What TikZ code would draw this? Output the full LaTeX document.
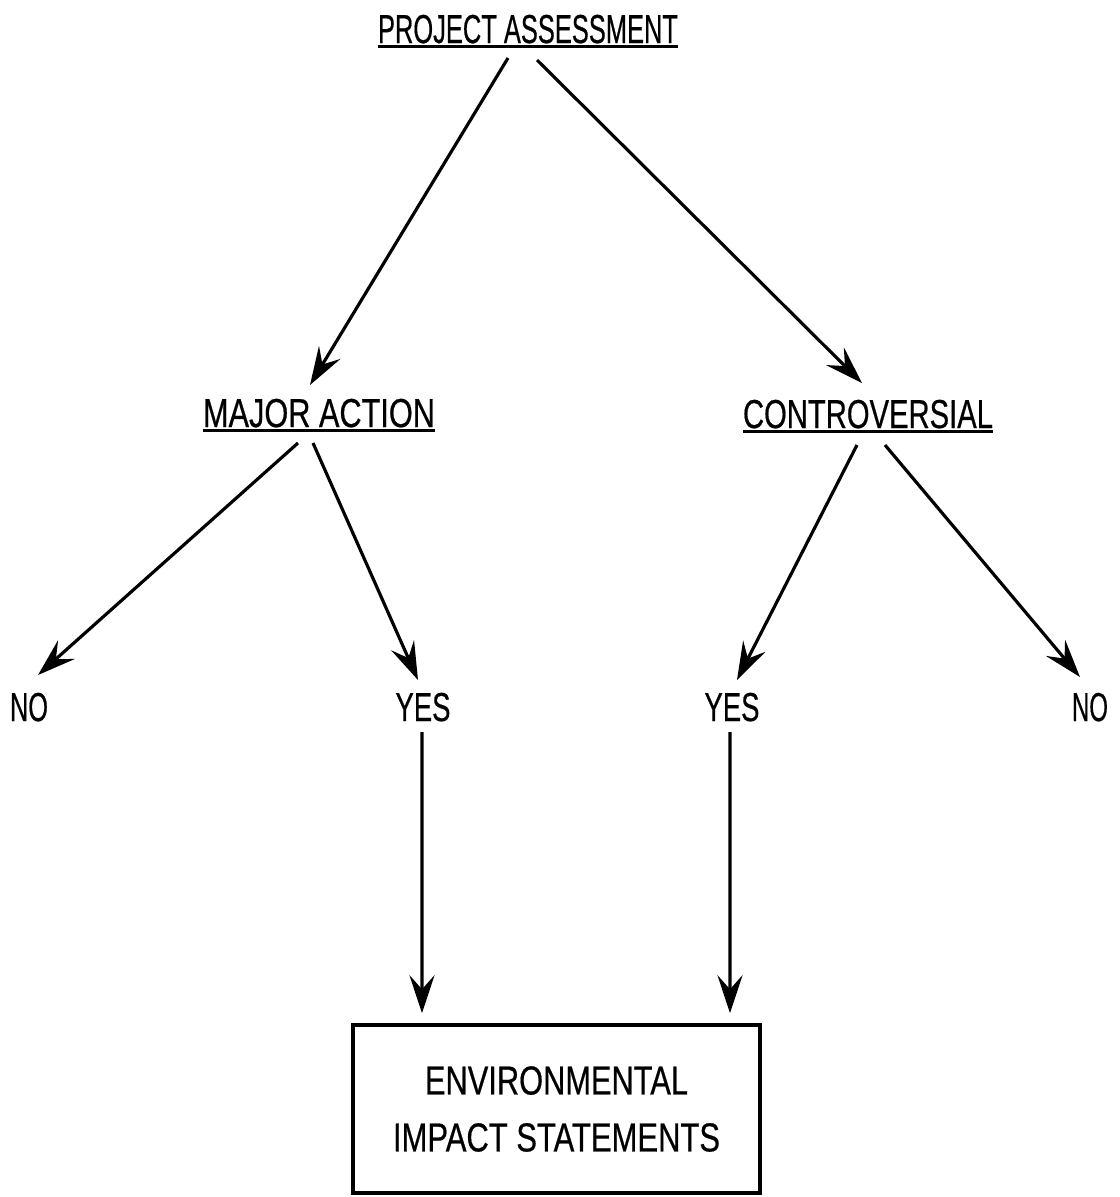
\documentclass[tikz,border=0pt]{standalone}
\usepackage{fontspec}
\setmainfont{Liberation Sans}[FakeBold=0.6]
\usepackage{graphicx}
\usepackage{tikz}
\usetikzlibrary{arrows.meta, positioning}

% text squeezed to the width it has in the drawing
\newcommand{\fitw}[2]{\resizebox{#1}{\height}{#2}}
\newcommand{\uline}[1]{\setbox0\hbox{#1}\rlap{\rule[-1.4pt]{\wd0}{0.8pt}}\box0}

\begin{document}
\begin{tikzpicture}[-,auto,thick,
                    main node/.style={anchor=base,inner sep=0pt,font=\fontsize{11.5}{14}\selectfont},
                    box node/.style={draw,line width=1pt,minimum width=4.07cm,minimum height=1.68cm,align=center,font=\fontsize{11.5}{16.2}\selectfont},
                    link/.style={line width=0.9pt,-{Stealth[length=3.8mm,width=2.5mm,inset=1.4mm]}}]
 \useasboundingbox (0,0) rectangle (11.2,-11.97);

%Top of the tree
   \node[main node] (Project) at (5.28,-0.43) {\fitw{3.00cm}{\uline{PROJECT ASSESSMENT}}};

%Second level
   \node[main node] (Major)  at (3.19,-4.27) {\fitw{2.32cm}{\uline{MAJOR ACTION}}};
   \node[main node] (Contro) at (8.68,-4.28) {\fitw{2.50cm}{\uline{CONTROVERSIAL}}};

%Answers
   \node[main node] (NoL)  at (0.29,-7.21) {\fitw{0.38cm}{NO}};
   \node[main node] (YesL) at (4.23,-7.21) {\fitw{0.55cm}{YES}};
   \node[main node] (YesR) at (7.32,-7.21) {\fitw{0.55cm}{YES}};
   \node[main node] (NoR)  at (10.90,-7.21) {\fitw{0.36cm}{NO}};

%Result box
   \node[box node] (EIS) at (5.565,-11.09) {\fitw{2.63cm}{ENVIRONMENTAL}\\\fitw{3.27cm}{IMPACT STATEMENTS}};

%Arrows
   \draw[link] ([xshift=-0.20cm,yshift=-0.15cm]Project.base) -- ([xshift=-0.09cm,yshift=0.42cm]Major.base);
   \draw[link] ([xshift=0.09cm,yshift=-0.17cm]Project.base)  -- ([xshift=-0.06cm,yshift=0.45cm]Contro.base);

   \draw[link] ([xshift=-0.21cm,yshift=-0.16cm]Major.base) -- ([xshift=0.09cm,yshift=0.46cm]NoL.base);
   \draw[link] ([xshift=-0.06cm,yshift=-0.16cm]Major.base) -- ([xshift=-0.05cm,yshift=0.41cm]YesL.base);

   \draw[link] ([xshift=-0.11cm,yshift=-0.17cm]Contro.base) -- ([xshift=0.05cm,yshift=0.41cm]YesR.base);
   \draw[link] ([xshift=0.17cm,yshift=-0.17cm]Contro.base)  -- ([xshift=-0.10cm,yshift=0.44cm]NoR.base);

   \draw[link] ([xshift=-0.01cm,yshift=-0.11cm]YesL.base) -- ([xshift=-1.345cm,yshift=0.10cm]EIS.north);
   \draw[link] ([xshift=-0.02cm,yshift=-0.11cm]YesR.base) -- ([xshift=1.735cm,yshift=0.10cm]EIS.north);

\end{tikzpicture}
\end{document}
